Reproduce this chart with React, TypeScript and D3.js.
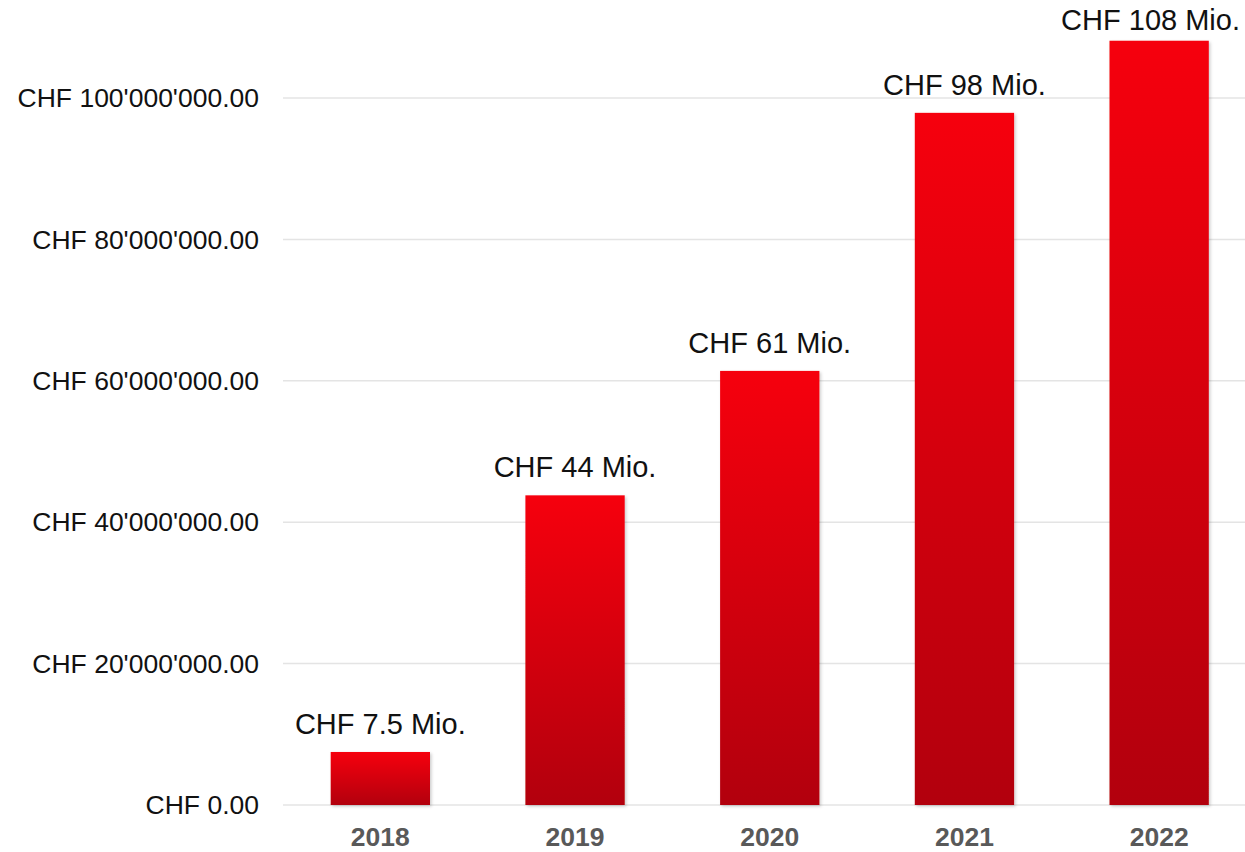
import { useEffect, useRef } from 'react';
import * as d3 from 'd3';

const years = ['2018', '2019', '2020', '2021', '2022'];
const values = [7.5e6, 43.8e6, 61.4e6, 97.9e6, 108.1e6];
const valueLabels = ['CHF 7.5 Mio.', 'CHF 44 Mio.', 'CHF 61 Mio.', 'CHF 98 Mio.', 'CHF 108 Mio.'];
const yTicks = [0, 20e6, 40e6, 60e6, 80e6, 100e6];

const W = 1245;
const H = 852;

export default function App() {
  const svgRef = useRef<SVGSVGElement>(null);

  useEffect(() => {
    if (!svgRef.current) return;
    document.body.style.margin = '0';
    const svg = d3.select(svgRef.current);
    svg.selectAll('*').remove();

    const x = d3
      .scaleBand<string>()
      .domain(years)
      .range([283, 1256.5])
      .paddingInner(0.49)
      .paddingOuter(0.245);
    const y = d3.scaleLinear().domain([0, 1e8]).range([805, 98]);

    const locale = d3.formatLocale({ decimal: '.', thousands: "'", grouping: [3], currency: ['CHF ', ''] });
    const fmt = locale.format('$,.2f');

    const defs = svg.append('defs');
    const grad = defs
      .append('linearGradient')
      .attr('id', 'barGrad')
      .attr('x1', 0)
      .attr('y1', 0)
      .attr('x2', 0)
      .attr('y2', 1);
    grad.append('stop').attr('offset', '0%').attr('stop-color', '#f6000c');
    grad.append('stop').attr('offset', '100%').attr('stop-color', '#b20008');

    const shadow = defs.append('filter').attr('id', 'shadow').attr('x', '-10%').attr('y', '-10%').attr('width', '130%').attr('height', '130%');
    shadow
      .append('feDropShadow')
      .attr('dx', 1.5)
      .attr('dy', 1.5)
      .attr('stdDeviation', 1.5)
      .attr('flood-color', '#000')
      .attr('flood-opacity', 0.2);

    // grid
    svg
      .append('g')
      .selectAll('line')
      .data(yTicks)
      .join('line')
      .attr('x1', 283)
      .attr('x2', W)
      .attr('y1', (d) => y(d))
      .attr('y2', (d) => y(d))
      .attr('stroke', '#e4e4e4')
      .attr('stroke-width', 1.5);

    // y labels
    svg
      .append('g')
      .selectAll('text')
      .data(yTicks)
      .join('text')
      .attr('x', 259)
      .attr('y', (d) => y(d))
      .attr('dy', '0.35em')
      .attr('text-anchor', 'end')
      .attr('font-family', 'Liberation Sans, Arial, sans-serif')
      .attr('font-size', 26.5)
      .attr('fill', '#111')
      .text((d) => fmt(d));

    // bars
    svg
      .append('g')
      .selectAll('rect')
      .data(values)
      .join('rect')
      .attr('x', (_, i) => x(years[i]) ?? 0)
      .attr('y', (d) => y(d))
      .attr('width', x.bandwidth())
      .attr('height', (d) => y(0) - y(d))
      .attr('fill', 'url(#barGrad)')
      .attr('filter', 'url(#shadow)');

    // value labels (kept inside the top and right edges)
    svg
      .append('g')
      .selectAll('text')
      .data(values)
      .join('text')
      .attr('y', (d) => Math.max(y(d) - 18, 30))
      .attr('text-anchor', 'middle')
      .attr('font-family', 'Liberation Sans, Arial, sans-serif')
      .attr('font-size', 29)
      .attr('fill', '#111')
      .text((_, i) => valueLabels[i])
      .attr('x', function (_, i) {
        const cx = (x(years[i]) ?? 0) + x.bandwidth() / 2;
        const half = (this as SVGTextElement).getComputedTextLength() / 2;
        return Math.min(cx, W - 5 - half);
      });

    // x labels
    svg
      .append('g')
      .selectAll('text')
      .data(years)
      .join('text')
      .attr('x', (d) => (x(d) ?? 0) + x.bandwidth() / 2)
      .attr('y', 846)
      .attr('text-anchor', 'middle')
      .attr('font-family', 'Liberation Sans, Arial, sans-serif')
      .attr('font-weight', 'bold')
      .attr('font-size', 26.5)
      .attr('fill', '#595959')
      .text((d) => d);
  }, []);

  return <svg ref={svgRef} width={W} height={H} style={{ display: 'block', background: '#fff' }} />;
}
